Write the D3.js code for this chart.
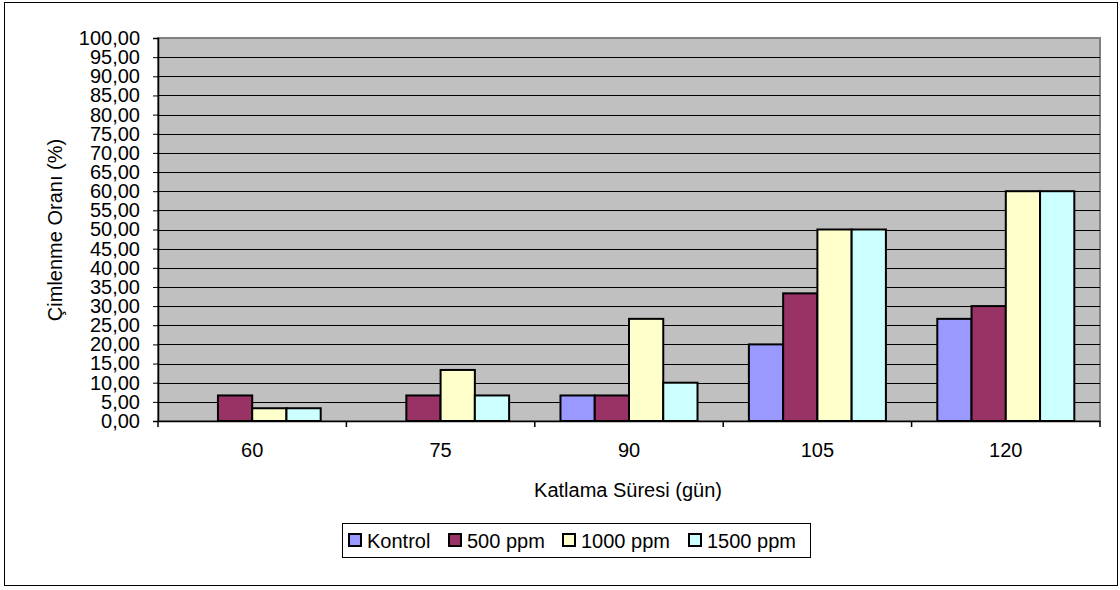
<!DOCTYPE html>
<html>
<head>
<meta charset="utf-8">
<script src="https://cdn.jsdelivr.net/npm/d3@7"></script>
<style>
  html, body { margin: 0; padding: 0; background: #fff; }
  svg { display: block; font-family: "Liberation Sans", Arial, sans-serif; }
</style>
</head>
<body>
<svg id="chart" width="1120" height="590"></svg>
<script>
// Germination rate (%) by stratification period and GA3 dose
const categories = ["60", "75", "90", "105", "120"];
const seriesNames = ["Kontrol", "500 ppm", "1000 ppm", "1500 ppm"];
const kontrol = [0, 0, 6.67, 20, 26.67];
const ppm500 = [6.67, 6.67, 6.67, 33.33, 30];
const ppm1000 = [3.33, 13.33, 26.67, 50, 60];
const ppm1500 = [3.33, 6.67, 10, 50, 60];
const seriesColors = ["#9999FF", "#993366", "#FFFFCC", "#CCFFFF"];
const yTicks = d3.range(0, 101, 5);

const values = [kontrol, ppm500, ppm1000, ppm1500];

const svg = d3.select("#chart");
const plot = { left: 158, top: 38, right: 1100, bottom: 421 };

// outer frame
svg.append("rect")
  .attr("x", 4.5).attr("y", 2.5).attr("width", 1113).attr("height", 583)
  .attr("fill", "#fff").attr("stroke", "#000").attr("stroke-width", 1);

const x = d3.scaleBand().domain(categories).range([plot.left, plot.right]);
const y = d3.scaleLinear().domain([0, 100]).range([plot.bottom, plot.top]);
const barW = x.bandwidth() / (seriesNames.length + 1.5);
const xs = d3.scaleBand().domain(seriesNames)
  .range([0, barW * seriesNames.length]);

// plot background
svg.append("rect")
  .attr("x", plot.left).attr("y", plot.top)
  .attr("width", plot.right - plot.left).attr("height", plot.bottom - plot.top)
  .attr("fill", "#C0C0C0").attr("stroke", "#808080").attr("stroke-width", 2);

// horizontal gridlines
svg.append("g").selectAll("line")
  .data(yTicks.filter(d => d > 0 && d < 100))
  .join("line")
  .attr("x1", plot.left).attr("x2", plot.right)
  .attr("y1", d => Math.round(y(d)) + 0.5).attr("y2", d => Math.round(y(d)) + 0.5)
  .attr("stroke", "#000").attr("stroke-width", 1);

// bars
const groups = svg.append("g").selectAll("g")
  .data(categories)
  .join("g")
  .attr("transform", c => `translate(${x(c) + (x.bandwidth() - barW * seriesNames.length) / 2},0)`);

groups.selectAll("rect")
  .data((c, i) => seriesNames.map((s, j) => ({ s, j, v: values[j][i] })).filter(d => d.v > 0))
  .join("rect")
  .attr("x", d => xs(d.s))
  .attr("y", d => y(d.v))
  .attr("width", barW)
  .attr("height", d => y(0) - y(d.v))
  .attr("fill", d => seriesColors[d.j])
  .attr("stroke", "#000").attr("stroke-width", 2);

// y axis
const yAxis = d3.axisLeft(y).tickValues(yTicks).tickSize(5).tickPadding(13)
  .tickFormat(d => d3.format(".2f")(d).replace(".", ","));
const gy = svg.append("g").attr("transform", `translate(${plot.left},0)`).call(yAxis);
gy.select(".domain").attr("stroke", "#000").attr("stroke-width", 1.5);
gy.selectAll(".tick line").attr("stroke", "#000");
gy.selectAll("text").attr("font-size", 20).attr("fill", "#000")
  .attr("font-family", "'Liberation Sans', Arial, sans-serif");

// x axis
const xAxis = d3.axisBottom(x).tickSize(0).tickPadding(22);
const gx = svg.append("g").attr("transform", `translate(0,${plot.bottom})`).call(xAxis);
gx.select(".domain").attr("stroke", "#000").attr("stroke-width", 1.5);
gx.selectAll("text").attr("font-size", 20).attr("fill", "#000")
  .attr("font-family", "'Liberation Sans', Arial, sans-serif");
// category boundary ticks
svg.append("g").selectAll("line")
  .data(categories.map(c => x(c)).concat([plot.right]))
  .join("line")
  .attr("x1", d => d).attr("x2", d => d)
  .attr("y1", plot.bottom).attr("y2", plot.bottom + 6)
  .attr("stroke", "#000").attr("stroke-width", 1.5);

// axis titles
svg.append("text")
  .attr("x", (plot.left + plot.right) / 2 - 1).attr("y", 497)
  .attr("text-anchor", "middle").attr("font-size", 20).attr("fill", "#000")
  .text("Katlama Süresi (gün)");
svg.append("text")
  .attr("transform", `translate(62,230) rotate(-90)`)
  .attr("text-anchor", "middle").attr("font-size", 20).attr("fill", "#000")
  .text("Çimlenme Oranı (%)");

// legend
const legend = svg.append("g");
legend.append("rect")
  .attr("x", 342.5).attr("y", 523.5).attr("width", 468).attr("height", 34)
  .attr("fill", "#fff").attr("stroke", "#000").attr("stroke-width", 1);
const legendX = [349, 449, 563, 689];
seriesNames.forEach((s, j) => {
  legend.append("rect")
    .attr("x", legendX[j]).attr("y", 534).attr("width", 12).attr("height", 12)
    .attr("fill", seriesColors[j]).attr("stroke", "#000").attr("stroke-width", 2);
  legend.append("text")
    .attr("x", legendX[j] + 18).attr("y", 548)
    .attr("font-size", 20).attr("fill", "#000").text(s);
});
</script>
</body>
</html>
